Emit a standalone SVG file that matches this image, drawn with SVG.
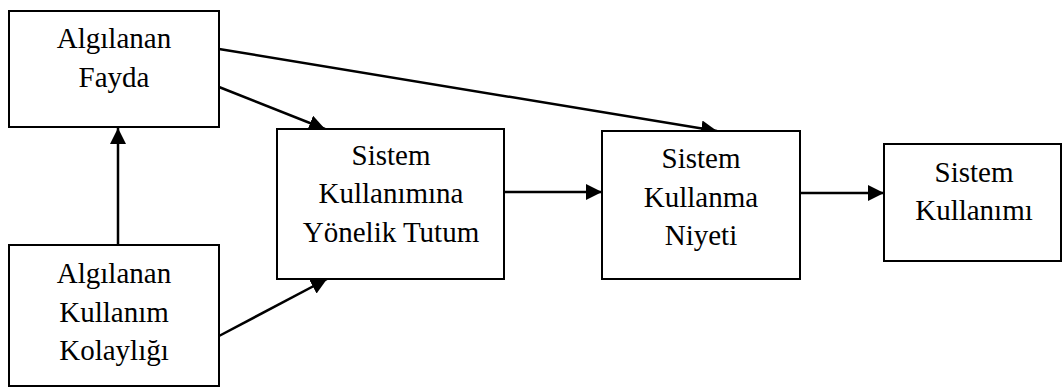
<svg xmlns="http://www.w3.org/2000/svg" width="1062" height="388" viewBox="0 0 1062 388">
<style>
.box{fill:#fff;stroke:#000;stroke-width:2}
.t{font-family:"Liberation Serif","Times New Roman",serif;font-size:29px;fill:#000;text-anchor:middle}
.c{fill:none;stroke:#000;stroke-width:2.5}
</style>
<defs>
<marker id="ah" markerUnits="userSpaceOnUse" markerWidth="18" markerHeight="16" refX="16" refY="8" orient="auto">
<path d="M0,0 L16,8 L0,16 Z" fill="#000"/>
</marker>
</defs>
<rect width="1062" height="388" fill="#fff"/>
<g id="connectors">
<line class="c" x1="118" y1="245" x2="118" y2="128" marker-end="url(#ah)"/>
<line class="c" x1="219" y1="49" x2="717" y2="131" marker-end="url(#ah)"/>
<line class="c" x1="219" y1="87" x2="325" y2="129" marker-end="url(#ah)"/>
<line class="c" x1="219" y1="336" x2="327" y2="279" marker-end="url(#ah)"/>
<line class="c" x1="504" y1="192" x2="602" y2="192" marker-end="url(#ah)"/>
<line class="c" x1="800" y1="193" x2="884" y2="193" marker-end="url(#ah)"/>
</g>
<g id="n1">
<rect class="box" x="9" y="11" width="210" height="116"/>
<text class="t" x="114" y="48">Algılanan</text>
<text class="t" x="114" y="87">Fayda</text>
</g>
<g id="n2">
<rect class="box" x="9" y="245" width="210" height="141"/>
<text class="t" x="114" y="283">Algılanan</text>
<text class="t" x="114" y="322">Kullanım</text>
<text class="t" x="114" y="360">Kolaylığı</text>
</g>
<g id="n3">
<rect class="box" x="277" y="129" width="227" height="150"/>
<text class="t" x="391" y="165">Sistem</text>
<text class="t" x="391" y="203">Kullanımına</text>
<text class="t" x="391" y="242">Yönelik Tutum</text>
</g>
<g id="n4">
<rect class="box" x="602" y="131" width="198" height="148"/>
<text class="t" x="701" y="168">Sistem</text>
<text class="t" x="701" y="207">Kullanma</text>
<text class="t" x="701" y="245">Niyeti</text>
</g>
<g id="n5">
<rect class="box" x="884" y="144" width="177" height="117"/>
<text class="t" x="974" y="182">Sistem</text>
<text class="t" x="974" y="220">Kullanımı</text>
</g>
</svg>
